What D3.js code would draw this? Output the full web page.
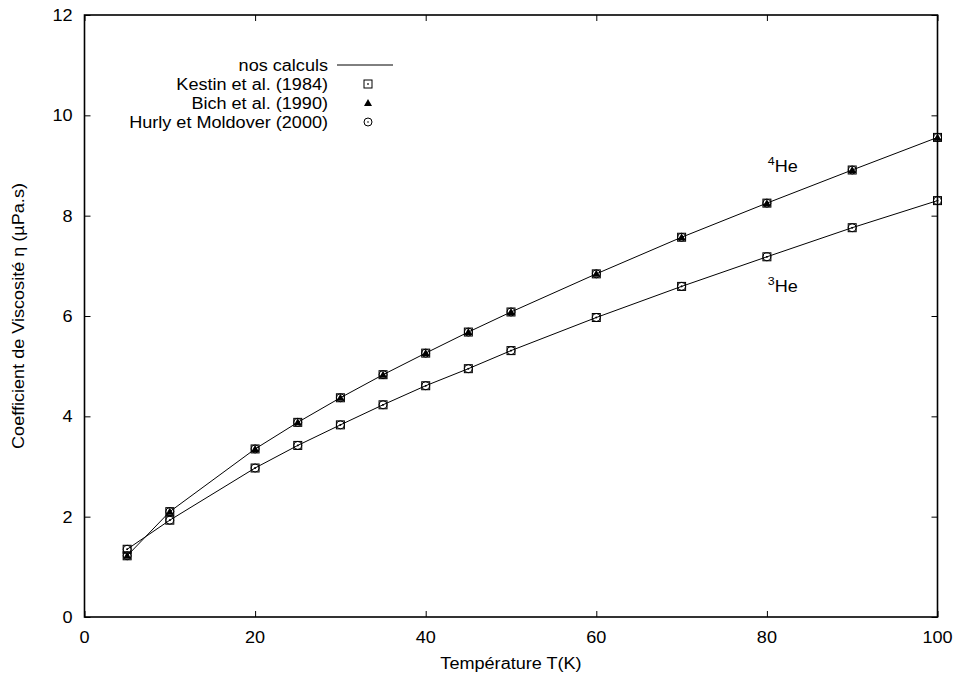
<!DOCTYPE html>
<html>
<head>
<meta charset="utf-8">
<script src="https://cdn.jsdelivr.net/npm/d3@7"></script>
<style>
  body { margin: 0; background: #fff; }
  text { font-family: "Liberation Sans", Arial, sans-serif; fill: #000; }
</style>
</head>
<body>
<div id="chart"></div>
<script>
// Data
var temps = [5, 10, 20, 25, 30, 35, 40, 45, 50, 60, 70, 80, 90, 100];
var he4 = [1.22, 2.10, 3.35, 3.88, 4.37, 4.83, 5.26, 5.68, 6.08, 6.84, 7.57, 8.25, 8.91, 9.56];
var he3 = [1.35, 1.93, 2.97, 3.42, 3.83, 4.23, 4.61, 4.95, 5.31, 5.97, 6.59, 7.18, 7.76, 8.30];
var xTicks = [0, 20, 40, 60, 80, 100];
var yTicks = [0, 2, 4, 6, 8, 10, 12];
var legendLabels = ["nos calculs", "Kestin et al. (1984)", "Bich et al. (1990)", "Hurly et Moldover (2000)"];

var svgWidth = 961;
var svgHeight = 682;

var margin = { top: 15, right: 23, bottom: 65, left: 84.5 };
var width = 937.5 - margin.left;
var height = 617 - margin.top;

// the original font is a bit wider than Liberation Sans
var stretch = 1.13;
var fontSize = 16;

var svg = d3.select("#chart")
  .append("svg")
  .attr("width", svgWidth)
  .attr("height", svgHeight);

var chartGroup = svg.append("g")
  .attr("transform", `translate(${margin.left}, ${margin.top})`);

var x = d3.scaleLinear().domain([0, 100]).range([0, width]);
var y = d3.scaleLinear().domain([0, 12]).range([height, 0]);

// text placed at (tx, ty), widened along its direction
function wideText(parent, tx, ty, anchor, str, rotate) {
  var g = parent.append("g")
    .attr("transform", `translate(${tx}, ${ty})` + (rotate ? " rotate(-90)" : "") + ` scale(${stretch}, 1)`);
  return g.append("text")
    .attr("text-anchor", anchor)
    .attr("font-size", fontSize)
    .text(str);
}

// axes with inward ticks, labels drawn by hand so they can be widened
var bottomAxis = d3.axisBottom(x).tickValues(xTicks).tickSize(-6).tickFormat("");
var leftAxis = d3.axisLeft(y).tickValues(yTicks).tickSize(-6).tickFormat("");
var topAxis = d3.axisTop(x).tickValues(xTicks).tickSize(-6).tickFormat("");
var rightAxis = d3.axisRight(y).tickValues(yTicks).tickSize(-6).tickFormat("");

function styleAxis(g) {
  g.select(".domain").remove();
  g.selectAll(".tick line").attr("stroke", "#000").attr("stroke-width", 1);
}

chartGroup.append("g").attr("transform", `translate(0, ${height})`).call(bottomAxis).call(styleAxis);
chartGroup.append("g").call(leftAxis).call(styleAxis);
chartGroup.append("g").call(topAxis).call(styleAxis);
chartGroup.append("g").attr("transform", `translate(${width}, 0)`).call(rightAxis).call(styleAxis);

xTicks.forEach(function(t) {
  wideText(chartGroup, x(t), height + 26, "middle", d3.format("d")(t));
});
yTicks.forEach(function(t) {
  wideText(chartGroup, -12, y(t) + 6, "end", d3.format("d")(t));
});

// frame
chartGroup.append("rect")
  .attr("width", width)
  .attr("height", height)
  .attr("fill", "none")
  .attr("stroke", "#000")
  .attr("stroke-width", 1.6);

// lines
var line = d3.line()
  .x(function(d, i) { return x(temps[i]); })
  .y(function(d) { return y(d); });

[he4, he3].forEach(function(series) {
  chartGroup.append("path")
    .datum(series)
    .attr("d", line)
    .attr("fill", "none")
    .attr("stroke", "#000")
    .attr("stroke-width", 1);
});

// marker helpers
function drawSquare(g, cx, cy) {
  g.append("rect")
    .attr("x", cx - 4).attr("y", cy - 4)
    .attr("width", 8).attr("height", 8)
    .attr("fill", "none").attr("stroke", "#000").attr("stroke-width", 1);
  g.append("rect")
    .attr("x", cx - 0.75).attr("y", cy - 0.75)
    .attr("width", 1.5).attr("height", 1.5)
    .attr("fill", "#000");
}
function drawTriangle(g, cx, cy) {
  g.append("path")
    .attr("d", `M${cx},${cy - 4}L${cx + 4},${cy + 3}L${cx - 4},${cy + 3}Z`)
    .attr("fill", "#000");
}
function drawCircle(g, cx, cy) {
  g.append("circle")
    .attr("cx", cx).attr("cy", cy).attr("r", 4)
    .attr("fill", "none").attr("stroke", "#000").attr("stroke-width", 1);
  g.append("circle")
    .attr("cx", cx).attr("cy", cy).attr("r", 0.8)
    .attr("fill", "#000");
}

var marks = chartGroup.append("g");
temps.forEach(function(t, i) {
  drawSquare(marks, x(t), y(he4[i]));
  drawTriangle(marks, x(t), y(he4[i]));
  drawCircle(marks, x(t), y(he4[i]));
  drawSquare(marks, x(t), y(he3[i]));
  drawCircle(marks, x(t), y(he3[i]));
});

// isotope labels
function isoLabel(mass, tx, ty) {
  var t = wideText(chartGroup, x(tx), y(ty), "start", "");
  t.append("tspan").attr("font-size", 11).attr("dy", -7).text(mass);
  t.append("tspan").attr("dy", 7).text("He");
}
isoLabel("4", 80.1, 8.87);
isoLabel("3", 80.1, 6.48);

// legend
var legend = svg.append("g");
var legendY = [65, 84, 103, 122];
legendLabels.forEach(function(lab, i) {
  wideText(legend, 328, legendY[i] + 5.5, "end", lab);
});
legend.append("line")
  .attr("x1", 337).attr("x2", 393)
  .attr("y1", legendY[0]).attr("y2", legendY[0])
  .attr("stroke", "#000").attr("stroke-width", 1);
drawSquare(legend, 368, legendY[1]);
drawTriangle(legend, 368, legendY[2]);
drawCircle(legend, 368, legendY[3]);

// axis titles
wideText(svg, margin.left + width / 2, 669, "middle", "Température T(K)");
wideText(svg, 24, 316, "middle", "Coefficient de Viscosité η (µPa.s)", true);
</script>
</body>
</html>
